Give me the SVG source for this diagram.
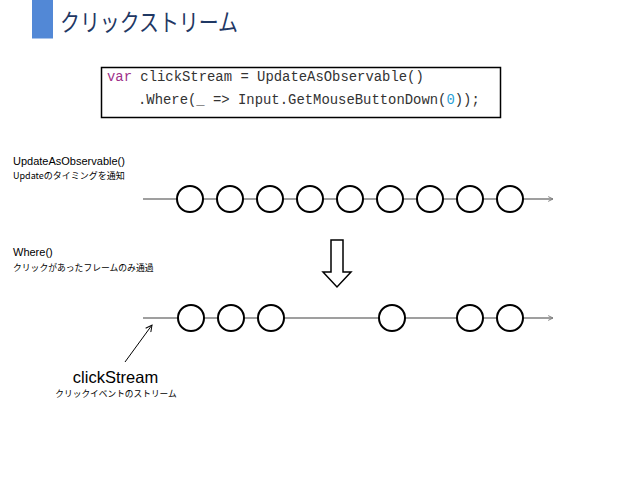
<svg xmlns="http://www.w3.org/2000/svg" width="638" height="479" viewBox="0 0 638 479">
  <defs>
    <marker id="open" viewBox="0 0 10 10" refX="9" refY="5" markerWidth="6" markerHeight="6" markerUnits="userSpaceOnUse" orient="auto">
      <path d="M1,1 L9,5 L1,9" fill="none" stroke="#7f7f7f" stroke-width="1.6"/>
    </marker>
    <marker id="openBlack" viewBox="0 0 10 10" refX="9" refY="5" markerWidth="8" markerHeight="8" markerUnits="userSpaceOnUse" orient="auto">
      <path d="M1,1 L9,5 L1,9" fill="none" stroke="#000" stroke-width="1.2"/>
    </marker>
  </defs>
  <style>
    .ev { fill: #fff; stroke: #000; stroke-width: 2; }
    .tl { stroke: #7f7f7f; stroke-width: 1.5; fill: none; }
    .code { font-family: "Liberation Mono", "DejaVu Sans Mono", monospace; font-size: 13.9px; fill: #333; }
    .lbl { font-family: "Liberation Sans", "Noto Sans CJK JP", sans-serif; fill: #000; }
    .jp { font-family: "Noto Sans CJK JP", sans-serif; fill: #000; }
  </style>
  <rect width="638" height="479" fill="#fff"/>

  <g id="title">
    <rect x="32" y="0" width="21" height="38.5" fill="#5288d6"/>
    <text x="60" y="31" font-family="Noto Sans CJK JP, sans-serif" font-size="24" fill="#1f3864" textLength="178" lengthAdjust="spacingAndGlyphs">クリックストリーム</text>
  </g>

  <g id="code-box">
    <rect x="101.5" y="67.5" width="399" height="50" fill="#fff" stroke="#000" stroke-width="1.5"/>
    <text class="code" x="107" y="81"><tspan fill="#a0318a">var</tspan> clickStream = UpdateAsObservable()</text>
    <text class="code" x="138" y="104">.Where(_ =&gt; Input.GetMouseButtonDown(<tspan fill="#2a9fd6">0</tspan>));</text>
  </g>

  <g id="label-update">
    <text class="lbl" x="13" y="165" font-size="11">UpdateAsObservable()</text>
    <text class="jp" x="13" y="178.5" font-size="9">Updateのタイミングを通知</text>
  </g>

  <g id="label-where">
    <text class="lbl" x="13" y="256" font-size="11">Where()</text>
    <text class="jp" x="13" y="270.5" font-size="8.8">クリックがあったフレームのみ通過</text>
  </g>

  <g id="connectors">
    <line class="tl" x1="143" y1="199" x2="553" y2="199" marker-end="url(#open)"/>
    <line class="tl" x1="143" y1="318" x2="553" y2="318" marker-end="url(#open)"/>
    <line x1="125" y1="362" x2="152" y2="325" stroke="#000" stroke-width="1" marker-end="url(#openBlack)"/>
  </g>

  <g id="stream-update">
    <circle class="ev" cx="190" cy="199" r="13"/>
    <circle class="ev" cx="230" cy="199" r="13"/>
    <circle class="ev" cx="270" cy="199" r="13"/>
    <circle class="ev" cx="310" cy="199" r="13"/>
    <circle class="ev" cx="350" cy="199" r="13"/>
    <circle class="ev" cx="390" cy="199" r="13"/>
    <circle class="ev" cx="430" cy="199" r="13"/>
    <circle class="ev" cx="470" cy="199" r="13"/>
    <circle class="ev" cx="510" cy="199" r="13"/>
  </g>

  <g id="down-arrow">
    <polygon points="331,240 343,240 343,272 351,272 337,287 323,272 331,272" fill="#fff" stroke="#000" stroke-width="1.5" stroke-linejoin="miter"/>
  </g>

  <g id="stream-where">
    <circle class="ev" cx="191" cy="318" r="13"/>
    <circle class="ev" cx="231" cy="318" r="13"/>
    <circle class="ev" cx="271" cy="318" r="13"/>
    <circle class="ev" cx="392" cy="318" r="13"/>
    <circle class="ev" cx="470" cy="318" r="13"/>
    <circle class="ev" cx="510" cy="318" r="13"/>
  </g>

  <g id="label-clickstream">
    <text class="lbl" x="115.5" y="383" font-size="16.5" text-anchor="middle">clickStream</text>
    <text class="jp" x="116" y="397" font-size="8.7" text-anchor="middle">クリックイベントのストリーム</text>
  </g>
</svg>
